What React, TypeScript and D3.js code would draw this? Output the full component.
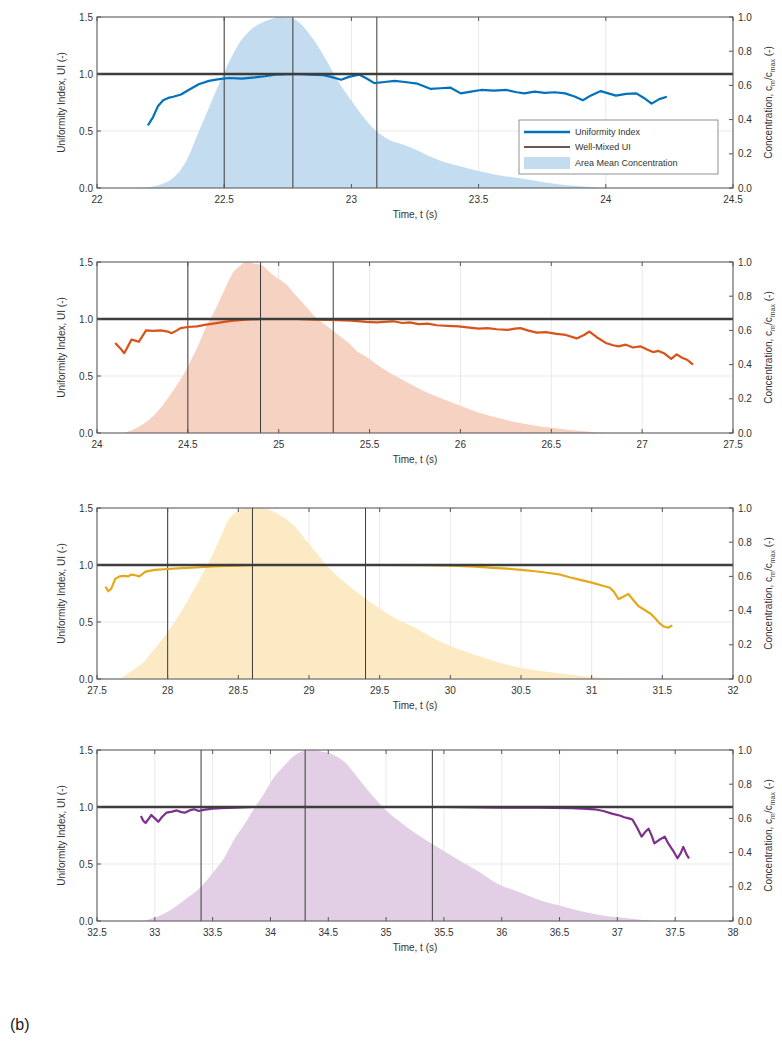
import React from "react";
import * as d3 from "d3";

// ---------- DATA ----------
const ui1T = [22.20,22.22,22.24,22.26,22.28,22.30,22.33,22.36,22.40,22.44,22.48,22.52,22.57,22.62,22.66,22.70,22.78,22.84,22.89,22.92,22.96,22.99,23.03,23.06,23.09,23.13,23.17,23.21,23.26,23.31,23.35,23.39,23.43,23.47,23.51,23.56,23.61,23.65,23.68,23.72,23.76,23.80,23.84,23.88,23.91,23.94,23.98,24.01,24.04,24.08,24.12,24.15,24.18,24.21,24.24];
const ui1V = [0.55,0.62,0.72,0.77,0.79,0.80,0.82,0.86,0.91,0.94,0.955,0.965,0.96,0.97,0.98,0.995,1.0,0.995,0.99,0.975,0.95,0.975,0.995,0.96,0.92,0.93,0.94,0.93,0.915,0.87,0.875,0.88,0.83,0.845,0.86,0.855,0.86,0.84,0.83,0.845,0.835,0.84,0.83,0.80,0.77,0.81,0.85,0.83,0.81,0.825,0.83,0.79,0.74,0.78,0.80];
const c1T = [22.18,22.25,22.30,22.34,22.37,22.40,22.44,22.48,22.52,22.56,22.60,22.64,22.68,22.72,22.76,22.80,22.83,22.86,22.90,22.95,23.00,23.05,23.10,23.15,23.21,23.26,23.30,23.35,23.42,23.50,23.58,23.67,23.75,23.82,23.90,23.98];
const c1V = [0,0.02,0.06,0.13,0.22,0.33,0.47,0.61,0.74,0.85,0.92,0.96,0.985,1.0,0.995,0.96,0.91,0.85,0.75,0.62,0.51,0.41,0.33,0.28,0.25,0.22,0.19,0.16,0.13,0.10,0.075,0.055,0.035,0.02,0.01,0];

const ui2T = [24.10,24.13,24.15,24.17,24.19,24.21,24.23,24.25,24.27,24.31,24.35,24.39,24.41,24.44,24.46,24.50,24.55,24.60,24.64,24.70,24.75,24.82,24.91,25.0,25.1,25.2,25.32,25.40,25.48,25.54,25.58,25.63,25.68,25.72,25.77,25.82,25.87,25.93,25.99,26.05,26.10,26.15,26.20,26.26,26.30,26.33,26.37,26.42,26.47,26.53,26.58,26.64,26.68,26.71,26.75,26.80,26.84,26.87,26.91,26.95,26.99,27.03,27.06,27.09,27.12,27.16,27.19,27.22,27.25,27.28];
const ui2V = [0.79,0.74,0.70,0.76,0.82,0.81,0.80,0.85,0.90,0.895,0.90,0.89,0.875,0.90,0.92,0.93,0.935,0.95,0.96,0.975,0.985,0.995,1.0,1.0,1.0,0.995,0.99,0.985,0.975,0.97,0.975,0.98,0.965,0.97,0.955,0.96,0.945,0.94,0.935,0.925,0.915,0.92,0.91,0.905,0.915,0.92,0.90,0.88,0.885,0.87,0.86,0.83,0.86,0.89,0.84,0.79,0.77,0.76,0.775,0.75,0.76,0.73,0.71,0.72,0.70,0.65,0.69,0.66,0.64,0.60];
const c2T = [24.15,24.22,24.30,24.36,24.42,24.47,24.51,24.56,24.60,24.65,24.69,24.72,24.75,24.79,24.82,24.87,24.91,24.95,25.0,25.05,25.09,25.15,25.2,25.26,25.32,25.38,25.43,25.49,25.54,25.63,25.72,25.81,25.90,26.0,26.1,26.2,26.32,26.43,26.55,26.66,26.8];
const c2V = [0,0.03,0.09,0.16,0.25,0.33,0.41,0.52,0.62,0.72,0.81,0.88,0.94,0.98,1.0,0.99,0.98,0.94,0.90,0.86,0.81,0.74,0.68,0.63,0.58,0.53,0.48,0.44,0.40,0.34,0.29,0.24,0.20,0.16,0.12,0.09,0.06,0.04,0.025,0.012,0];

const ui3T = [27.56,27.58,27.60,27.63,27.66,27.69,27.72,27.74,27.77,27.80,27.82,27.84,27.88,27.91,28.0,28.1,28.2,28.35,28.5,28.6,29.0,29.5,29.8,30.0,30.18,30.3,30.4,30.5,30.6,30.7,30.78,30.85,30.92,31.0,31.06,31.13,31.16,31.19,31.22,31.26,31.29,31.33,31.37,31.42,31.45,31.48,31.51,31.54,31.57];
const ui3V = [0.81,0.77,0.79,0.88,0.90,0.905,0.90,0.915,0.91,0.90,0.92,0.94,0.95,0.957,0.965,0.972,0.978,0.99,0.995,1.0,1.0,1.0,0.998,0.995,0.986,0.975,0.968,0.957,0.945,0.93,0.915,0.89,0.87,0.845,0.825,0.80,0.76,0.70,0.72,0.745,0.70,0.64,0.61,0.57,0.53,0.49,0.46,0.45,0.47];
const c3T = [27.66,27.75,27.83,27.89,27.96,28.03,28.1,28.17,28.25,28.32,28.38,28.43,28.49,28.55,28.65,28.72,28.77,28.83,28.89,28.97,29.06,29.14,29.23,29.35,29.47,29.6,29.75,29.9,30.04,30.18,30.33,30.47,30.62,30.8,31.0,31.2];
const c3V = [0,0.05,0.10,0.16,0.23,0.31,0.40,0.50,0.62,0.73,0.84,0.93,0.98,1.0,1.0,0.99,0.97,0.94,0.90,0.82,0.73,0.65,0.58,0.50,0.43,0.36,0.30,0.23,0.18,0.14,0.10,0.07,0.05,0.03,0.012,0];

const ui4T = [32.88,32.90,32.92,32.95,32.97,33.0,33.03,33.06,33.10,33.15,33.19,33.23,33.26,33.30,33.34,33.38,33.42,33.50,33.57,33.7,33.85,34.5,35.0,35.5,36.0,36.3,36.6,36.7,36.8,36.88,36.96,37.02,37.06,37.10,37.13,37.17,37.21,37.24,37.27,37.30,37.32,37.36,37.41,37.44,37.48,37.52,37.55,37.57,37.60,37.62];
const ui4V = [0.92,0.88,0.86,0.90,0.93,0.90,0.87,0.91,0.95,0.96,0.97,0.955,0.95,0.97,0.98,0.965,0.975,0.985,0.99,0.995,1.0,1.0,1.0,1.0,0.995,0.995,0.99,0.985,0.98,0.965,0.94,0.925,0.91,0.90,0.89,0.82,0.74,0.78,0.81,0.74,0.68,0.71,0.74,0.68,0.62,0.55,0.60,0.65,0.58,0.55];
const c4T = [32.9,33.0,33.07,33.15,33.25,33.4,33.5,33.6,33.68,33.77,33.86,33.95,34.03,34.12,34.21,34.3,34.38,34.45,34.52,34.6,34.67,34.73,34.8,34.9,34.98,35.1,35.26,35.4,35.5,35.62,35.8,35.96,36.15,36.32,36.5,36.67,36.85,37.02,37.2,37.37];
const c4V = [0,0.02,0.04,0.07,0.12,0.20,0.28,0.37,0.47,0.56,0.66,0.75,0.84,0.91,0.97,0.995,1.0,0.99,0.98,0.95,0.91,0.86,0.80,0.72,0.66,0.59,0.51,0.45,0.41,0.36,0.29,0.22,0.17,0.125,0.09,0.06,0.035,0.02,0.008,0];

const markers1 = [22.5, 22.77, 23.1];
const markers2 = [24.5, 24.9, 25.3];
const markers3 = [28.0, 28.6, 29.4];
const markers4 = [33.4, 34.3, 35.4];

const xDomains = [[22, 24.5], [24, 27.5], [27.5, 32], [32.5, 38]];
const lineColors = ["#0072BD", "#D95319", "#E3A91A", "#7E2F8E"];
const areaColors = ["#c4dcef", "#f6d2c2", "#fbeac4", "#e2cfe6"];

const leftTicks = [0, 0.5, 1.0, 1.5];
const rightTicks = [0, 0.2, 0.4, 0.6, 0.8, 1.0];
const legendLabels = ["Uniformity Index", "Well-Mixed UI", "Area Mean Concentration"];
const wellMixed = 1.0;

// ---------- LAYOUT ----------
const W = 782, H = 1045;
const LEFT = 97, RIGHT = 733;
const TOPS = [17, 262, 508, 750];
const PH = 171;
const FONT = "Liberation Sans, Arial, Helvetica, sans-serif";
const TXT = "#333";

const panels = [
  { uiT: ui1T, uiV: ui1V, cT: c1T, cV: c1V, marks: markers1 },
  { uiT: ui2T, uiV: ui2V, cT: c2T, cV: c2V, marks: markers2 },
  { uiT: ui3T, uiV: ui3V, cT: c3T, cV: c3V, marks: markers3 },
  { uiT: ui4T, uiV: ui4V, cT: c4T, cV: c4V, marks: markers4 },
];

const fmtX = (v: number) => (Math.abs(v - Math.round(v)) < 1e-6 ? String(Math.round(v)) : v.toFixed(1));

function Panel({ idx }: { idx: number }) {
  const p = panels[idx];
  const top = TOPS[idx];
  const bottom = top + PH;
  const [x0, x1] = xDomains[idx];
  const x = d3.scaleLinear().domain([x0, x1]).range([LEFT, RIGHT]);
  const yL = d3.scaleLinear().domain([0, 1.5]).range([bottom, top]);
  const yR = d3.scaleLinear().domain([0, 1]).range([bottom, top]);
  const xTicks = d3.range(x0, x1 + 1e-6, 0.5);

  const area = d3.area<number>()
    .x((_, i) => x(p.cT[i]))
    .y0(bottom)
    .y1((d) => yR(d))
    .curve(d3.curveMonotoneX);
  const line = d3.line<number>()
    .x((_, i) => x(p.uiT[i]))
    .y((d) => yL(d));

  const midY = (top + bottom) / 2;
  return (
    <g>
      {xTicks.map((t) => (
        <line key={"gx" + t} x1={x(t)} x2={x(t)} y1={top} y2={bottom} stroke="#e3e3e3" strokeWidth={0.8} />
      ))}
      {leftTicks.map((t) => (
        <line key={"gy" + t} x1={LEFT} x2={RIGHT} y1={yL(t)} y2={yL(t)} stroke="#e3e3e3" strokeWidth={0.8} />
      ))}
      <path d={area(p.cV) || ""} fill={areaColors[idx]} stroke="none" />
      {p.marks.map((m, i) => (
        <line key={"m" + i} x1={x(m)} x2={x(m)} y1={top} y2={bottom} stroke="#3a3a3a" strokeWidth={1} />
      ))}
      <path d={line(p.uiV) || ""} fill="none" stroke={lineColors[idx]} strokeWidth={2.2} strokeLinejoin="round" />
      <line x1={LEFT} x2={RIGHT} y1={yL(wellMixed)} y2={yL(wellMixed)} stroke="#3d3d3d" strokeWidth={2.4} />
      <rect x={LEFT} y={top} width={RIGHT - LEFT} height={PH} fill="none" stroke="#555" strokeWidth={1} />
      {xTicks.map((t) => (
        <g key={"xt" + t}>
          <line x1={x(t)} x2={x(t)} y1={bottom} y2={bottom - 4} stroke="#555" />
          <line x1={x(t)} x2={x(t)} y1={top} y2={top + 4} stroke="#555" />
          <text x={x(t)} y={bottom + 15} textAnchor="middle" fontSize={10} fill={TXT} fontFamily={FONT}>{fmtX(t)}</text>
        </g>
      ))}
      {leftTicks.map((t) => (
        <g key={"lt" + t}>
          <line x1={LEFT} x2={LEFT + 4} y1={yL(t)} y2={yL(t)} stroke="#555" />
          <text x={LEFT - 4} y={yL(t) + 3.5} textAnchor="end" fontSize={10} fill={TXT} fontFamily={FONT}>{t.toFixed(1)}</text>
        </g>
      ))}
      {rightTicks.map((t) => (
        <g key={"rt" + t}>
          <line x1={RIGHT} x2={RIGHT - 4} y1={yR(t)} y2={yR(t)} stroke="#555" />
          <text x={RIGHT + 5} y={yR(t) + 3.5} textAnchor="start" fontSize={10} fill={TXT} fontFamily={FONT}>{t.toFixed(1)}</text>
        </g>
      ))}
      <text x={(LEFT + RIGHT) / 2} y={bottom + 30} textAnchor="middle" fontSize={10} fill={TXT} fontFamily={FONT}>Time, t (s)</text>
      <text transform={`translate(65,${midY}) rotate(-90)`} textAnchor="middle" fontSize={10} fill={TXT} fontFamily={FONT}>Uniformity Index, UI (-)</text>
      <text transform={`translate(772,${midY}) rotate(-90)`} textAnchor="middle" fontSize={10} fill={TXT} fontFamily={FONT}>
        Concentration, c<tspan fontSize={7} dy={3}>m</tspan><tspan dy={-3}>/c</tspan><tspan fontSize={7} dy={3}>max</tspan><tspan dy={-3}> (-)</tspan>
      </text>
      {idx === 0 && <Legend />}
    </g>
  );
}

function Legend() {
  const lx = 519, ly = 120, lw = 199, lh = 54;
  const rows = [132, 147, 163];
  return (
    <g>
      <rect x={lx} y={ly} width={lw} height={lh} fill="#fff" stroke="#777" strokeWidth={0.8} />
      <line x1={524} x2={570} y1={rows[0]} y2={rows[0]} stroke={lineColors[0]} strokeWidth={2.5} />
      <line x1={524} x2={570} y1={rows[1]} y2={rows[1]} stroke="#6e5753" strokeWidth={2.2} />
      <rect x={524} y={rows[2] - 6} width={46} height={12} fill={areaColors[0]} />
      {legendLabels.map((l, i) => (
        <text key={l} x={575} y={rows[i] + 3.2} fontSize={9} fill={TXT} fontFamily={FONT}>{l}</text>
      ))}
    </g>
  );
}

export default function App() {
  return (
    <svg width={W} height={H} style={{ position: "absolute", left: 0, top: 0, background: "#fff" }}>
      <rect x={0} y={0} width={W} height={H} fill="#fff" />
      {panels.map((_, i) => <Panel key={i} idx={i} />)}
      <text x={10} y={1030} fontSize={16} fill="#222" fontFamily={FONT}>(b)</text>
    </svg>
  );
}
